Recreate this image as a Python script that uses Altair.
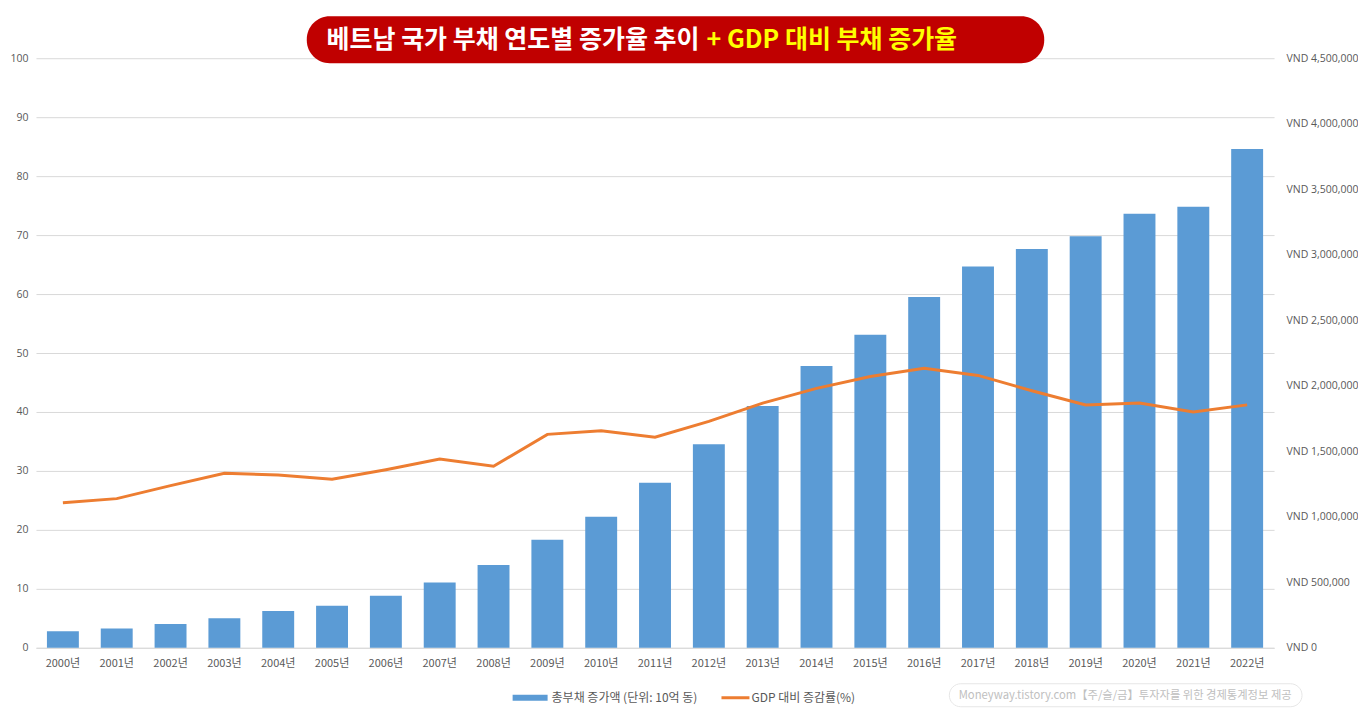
import altair as alt
import pandas as pd

years = [f"{y}년" for y in range(2000, 2023)]
debt = [127000, 147000, 181000, 226000, 280000, 320000, 397000, 498000, 631000,
        824000, 1001000, 1259000, 1553000, 1846000, 2151000, 2390000, 2677000,
        2911000, 3043000, 3142000, 3313000, 3366000, 3808000]
ratio = [24.6, 25.3, 27.5, 29.6, 29.3, 28.6, 30.2, 32.0, 30.8, 36.2, 36.8, 35.7,
         38.4, 41.5, 44.0, 46.0, 47.4, 46.2, 43.6, 41.2, 41.5, 40.0, 41.2]

title_white = "베트남 국가 부채 연도별 증가율 추이"
title_yellow = "+ GDP 대비 부채 증가율"
legend_bar = "총부채 증가액 (단위: 10억 동)"
legend_line = "GDP 대비 증감률(%)"
watermark = "Moneyway.tistory.com【주/슬/금】투자자를 위한 경제통계정보 제공"

df = pd.DataFrame({"year": years, "debt": debt, "ratio": ratio})

FONT = "Noto Sans CJK KR"
LBL = "#595959"
OX = 36  # plot-area left edge on the page
OY = 58  # plot-area top edge on the page

x_enc = alt.X("year:N", sort=None,
              scale=alt.Scale(paddingInner=0.407, paddingOuter=0.2035),
              axis=alt.Axis(title=None, labelAngle=0, ticks=False, domainColor="#d9d9d9",
                            labelColor=LBL, labelFontSize=11, labelFont=FONT,
                            labelPadding=10, grid=False))

bars = alt.Chart(df).mark_bar(color="#5B9BD5").encode(
    x=x_enc,
    y=alt.Y("debt:Q", scale=alt.Scale(domain=[0, 4500000], nice=False),
            axis=alt.Axis(orient="right", title=None, values=list(range(0, 4500001, 500000)),
                          labelExpr="'VND ' + format(datum.value, ',')",
                          grid=False, domain=False, ticks=False, labelColor=LBL,
                          labelFontSize=10.5, labelFont="Open Sans", labelPadding=12))
)

line = alt.Chart(df).mark_line(color="#ED7D31", strokeWidth=3).encode(
    x=alt.X("year:N", sort=None),
    y=alt.Y("ratio:Q", scale=alt.Scale(domain=[0, 100], nice=False),
            axis=alt.Axis(orient="left", title=None, values=list(range(0, 101, 10)),
                          grid=True, gridColor="#d9d9d9", domain=False, ticks=False,
                          labelColor=LBL, labelFontSize=10.5, labelFont="Open Sans",
                          labelPadding=8))
)

one = alt.Data(values=[{"a": 1}])

title_box = alt.Chart(one).mark_rect(color="#C00000", cornerRadius=23).encode(
    x=alt.value(307 - OX), x2=alt.value(1045 - OX), y=alt.value(16 - OY), y2=alt.value(63 - OY))
t_white = alt.Chart(one).mark_text(color="white", font=FONT, fontSize=25, fontWeight="bold",
                                   align="right", baseline="middle").encode(
    x=alt.value(700 - OX), y=alt.value(40 - OY), text=alt.value(title_white))
t_yellow = alt.Chart(one).mark_text(color="#FFFF00", font=FONT, fontSize=25, fontWeight="bold",
                                    align="left", baseline="middle").encode(
    x=alt.value(707 - OX), y=alt.value(40 - OY), text=alt.value(title_yellow))

leg_rect = alt.Chart(one).mark_rect(color="#5B9BD5").encode(
    x=alt.value(513 - OX), x2=alt.value(548 - OX), y=alt.value(695 - OY), y2=alt.value(701 - OY))
leg_t1 = alt.Chart(one).mark_text(color=LBL, font=FONT, fontSize=12, align="left",
                                  baseline="middle").encode(
    x=alt.value(552 - OX), y=alt.value(698 - OY), text=alt.value(legend_bar))
leg_rule = alt.Chart(one).mark_rule(color="#ED7D31", strokeWidth=3).encode(
    x=alt.value(722 - OX), x2=alt.value(750 - OX), y=alt.value(698 - OY))
leg_t2 = alt.Chart(one).mark_text(color=LBL, font=FONT, fontSize=12, align="left",
                                  baseline="middle").encode(
    x=alt.value(752 - OX), y=alt.value(698 - OY), text=alt.value(legend_line))

wm_box = alt.Chart(one).mark_rect(fill="white", stroke="#e6e6e6", strokeWidth=1,
                                  cornerRadius=12).encode(
    x=alt.value(950 - OX), x2=alt.value(1303 - OX), y=alt.value(684 - OY), y2=alt.value(707 - OY))
wm_text = alt.Chart(one).mark_text(color="#c0c0c0", font=FONT, fontSize=11.3, align="center",
                                   baseline="middle").encode(
    x=alt.value(1126 - OX), y=alt.value(696 - OY), text=alt.value(watermark))

chart = alt.layer(bars, line, title_box, t_white, t_yellow, leg_rect, leg_t1, leg_rule, leg_t2,
                  wm_box, wm_text).resolve_scale(y="independent").properties(
    width=1239, height=590,
    autosize=alt.AutoSizeParams(type="none"),
    padding={"left": OX - 8, "top": OY - 8, "right": 84, "bottom": 60},
    background="white",
).configure_view(stroke=None)

chart.save("out.html", embed_options={"renderer": "svg", "actions": False})
